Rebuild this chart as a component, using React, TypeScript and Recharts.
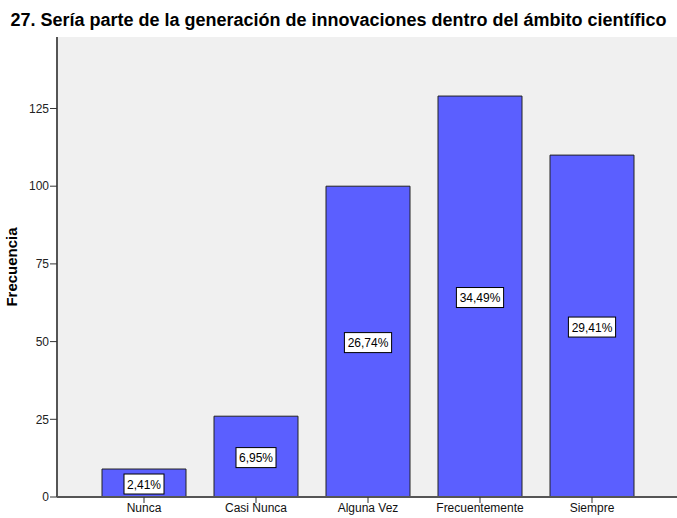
import { BarChart, Bar, XAxis, YAxis, CartesianGrid, LabelList } from "recharts"

const categories = ["Nunca", "Casi Nunca", "Alguna Vez", "Frecuentemente", "Siempre"]
const frequencies = [9, 26, 100, 129, 110]
const percentLabels = ["2,41%", "6,95%", "26,74%", "34,49%", "29,41%"]
const yTicks = [0, 25, 50, 75, 100, 125]

const data = categories.map((name, i) => ({
  name,
  freq: frequencies[i],
  pct: percentLabels[i],
}))

function PctLabel(props: any) {
  const { x, y, width, height, value } = props
  const cx = x + width / 2
  const cy = y + height / 2 + 1
  const w = String(value).length * 7.2 + 4
  return (
    <g>
      <rect x={cx - w / 2} y={cy - 10} width={w} height={20} fill="#fff" stroke="#000" strokeWidth={1} />
      <text x={cx} y={cy + 4.5} textAnchor="middle" fontSize={12} fill="#000" fontFamily="Liberation Sans, Arial, sans-serif">
        {value}
      </text>
    </g>
  )
}

export default function App() {
  return (
    <div style={{ position: "absolute", left: 0, top: 0, width: 677, height: 518, background: "#fff", fontFamily: "Liberation Sans, Arial, sans-serif" }}>
      <div style={{ position: "absolute", left: 0, top: 10, width: 677, textAlign: "center", fontWeight: "bold", fontSize: 18, color: "#000", whiteSpace: "nowrap" }}>
        27. Sería parte de la generación de innovaciones dentro del ámbito científico
      </div>
      <BarChart
        width={677}
        height={518}
        data={data}
        margin={{ top: 37, right: 0, bottom: 0, left: 0 }}
        barCategoryGap="12.5%"
      >
        <CartesianGrid fill="#f0f0f0" horizontal={false} vertical={false} />
        <XAxis
          xAxisId="top"
          orientation="top"
          dataKey="name"
          tick={false}
          tickLine={false}
          height={0}
          axisLine={{ stroke: "#777", strokeWidth: 1 }}
        />
        <XAxis
          dataKey="name"
          padding={{ left: 31, right: 29 }}
          axisLine={{ stroke: "#555", strokeWidth: 2 }}
          tickLine={{ stroke: "#333" }}
          tickSize={6}
          tick={{ fontSize: 12, fill: "#111" }}
          tickMargin={0}
          height={21}
          interval={0}
        />
        <YAxis
          width={57}
          domain={[0, 148]}
          ticks={yTicks}
          allowDataOverflow
          axisLine={{ stroke: "#555", strokeWidth: 2 }}
          tickLine={{ stroke: "#333" }}
          tickSize={7}
          tickMargin={1}
          tick={{ fontSize: 12, fill: "#222" }}
          label={{
            content: ({ viewBox }: any) => {
              const cy = viewBox.y + viewBox.height / 2
              return (
                <text
                  x={17}
                  y={cy}
                  transform={`rotate(-90 17 ${cy})`}
                  textAnchor="middle"
                  fontSize={15}
                  fontWeight="bold"
                  fill="#000"
                >
                  Frecuencia
                </text>
              )
            },
          }}
        />
        <Bar dataKey="freq" fill="#5b5fff" stroke="#222" strokeWidth={1} isAnimationActive={false}>
          <LabelList dataKey="pct" content={<PctLabel />} />
        </Bar>
      </BarChart>
    </div>
  )
}
